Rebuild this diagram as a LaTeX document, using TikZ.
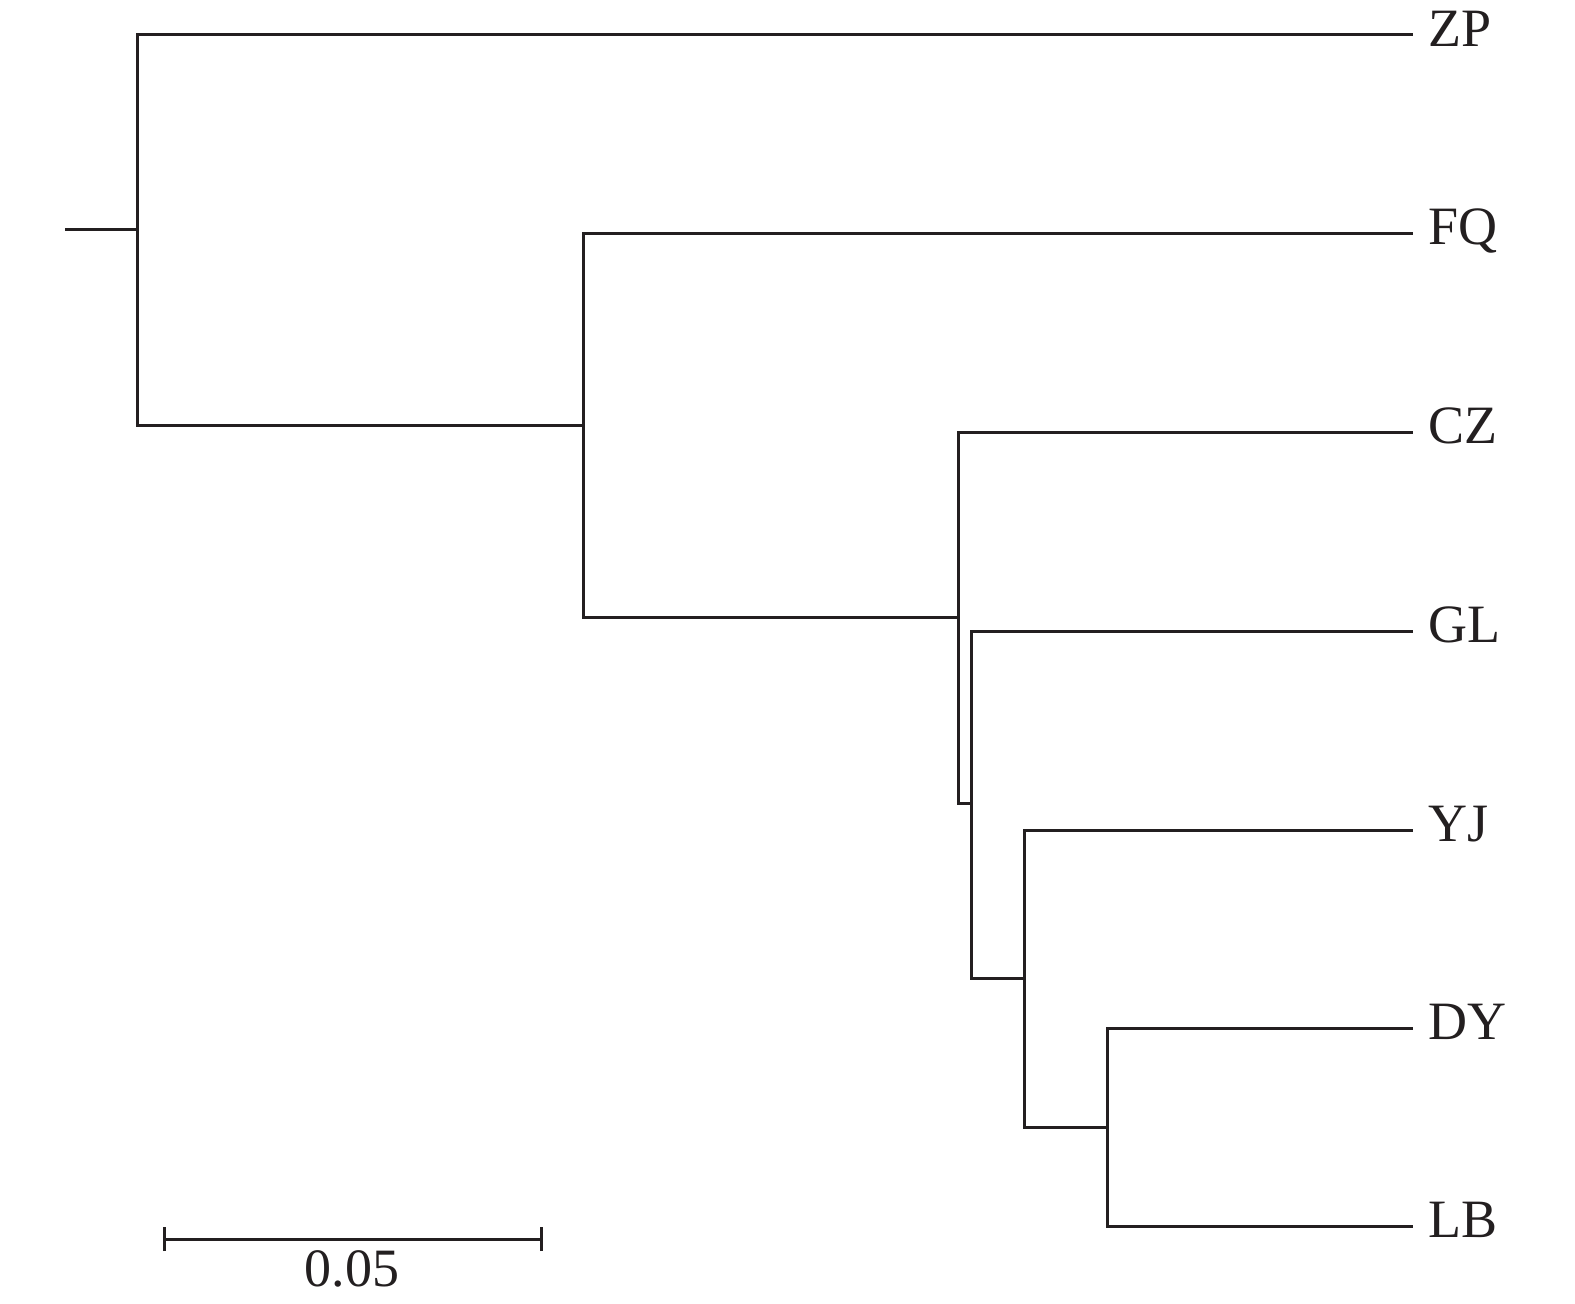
\documentclass[tikz,border=0pt]{standalone}
\usepackage{fontspec}
\setmainfont{Liberation Serif}
\definecolor{ink}{HTML}{231F20}
\begin{document}
\begin{tikzpicture}[x=1pt,y=-1pt,
  branch/.style={draw=ink,line width=3pt,line join=miter},
  leaf/.style={anchor=base west,inner sep=0pt,text=ink,font=\fontsize{54}{60}\selectfont},
  scaletxt/.style={anchor=base,inner sep=0pt,text=ink,font=\fontsize{54}{60}\selectfont}]
\useasboundingbox (0,0) rectangle (1575,1304);
% internal nodes
\coordinate (root) at (65,229);
\coordinate (n0) at (137,229);
\coordinate (n1) at (583,425);
\coordinate (n2) at (958,617);
\coordinate (n3) at (971,803);
\coordinate (n4) at (1024,978);
\coordinate (n5) at (1107,1127);
% leaf ends
\coordinate (ZPe) at (1413,34);
\coordinate (FQe) at (1413,233);
\coordinate (CZe) at (1413,432);
\coordinate (GLe) at (1413,631);
\coordinate (YJe) at (1413,830);
\coordinate (DYe) at (1413,1028);
\coordinate (LBe) at (1413,1226);
% labels
\node[leaf] (ZP) at (1428,46) {ZP};
\node[leaf] (FQ) at (1428,244) {FQ};
\node[leaf] (CZ) at (1428,443) {CZ};
\node[leaf] (GL) at (1428,642) {GL};
\node[leaf] (YJ) at (1428,841) {YJ};
\node[leaf] (DY) at (1428,1039) {DY};
\node[leaf] (LB) at (1428,1237) {LB};
% branches
\draw[branch] (root) -- (n0);
\draw[branch] (n0) |- (ZPe);
\draw[branch] (n0) |- (n1);
\draw[branch] (n1) |- (FQe);
\draw[branch] (n1) |- (n2);
\draw[branch] (n2) |- (CZe);
\draw[branch] (n2) |- (n3);
\draw[branch] (n3) |- (GLe);
\draw[branch] (n3) |- (n4);
\draw[branch] (n4) |- (YJe);
\draw[branch] (n4) |- (n5);
\draw[branch] (n5) |- (DYe);
\draw[branch] (n5) |- (LBe);
% scale bar
\coordinate (sbl) at (164,1239);
\coordinate (sbr) at (541,1239);
\draw[branch] (sbl) -- (sbr);
\draw[branch] ([yshift=-12pt]sbl) -- ([yshift=12pt]sbl);
\draw[branch] ([yshift=-12pt]sbr) -- ([yshift=12pt]sbr);
\node[scaletxt] (scale) at (352,1286) {0.05};
\end{tikzpicture}
\end{document}
